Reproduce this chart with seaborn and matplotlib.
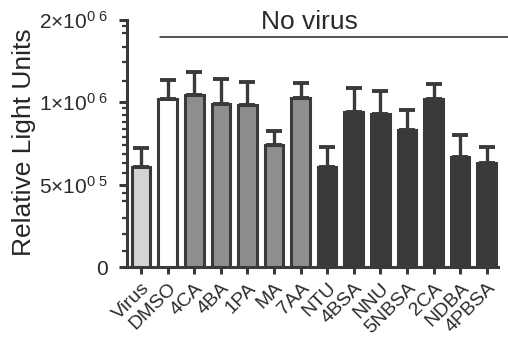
import numpy as np
import pandas as pd
import matplotlib
matplotlib.use("Agg")
import matplotlib.pyplot as plt
import seaborn as sns

# values
labels = ["Virus", "DMSO", "4CA", "4BA", "1PA", "MA", "7AA",
          "NTU", "4BSA", "NNU", "5NBSA", "2CA", "NDBA", "4PBSA"]
groups = ["virus", "dmso"] + ["acid"] * 5 + ["sulf"] * 7
means = [5.8e5, 1.03e6, 1.06e6, 9.9e5, 9.8e5, 7.0e5, 1.035e6,
         5.8e5, 9.2e5, 9.05e5, 7.9e5, 1.025e6, 6.3e5, 6.0e5]
sds = [1.0e5, 1.8e5, 2.3e5, 2.3e5, 2.1e5, 0.85e5, 1.45e5,
       1.05e5, 2.1e5, 1.95e5, 1.5e5, 1.45e5, 1.3e5, 0.85e5]
ytick_vals = [0, 5e5, 1e6, 2e6]
ytick_labels = ["0", r"$5{\times}10^{0\ 5}$", r"$1{\times}10^{0\ 6}$", r"$2{\times}10^{0\ 6}$"]

palette = {"virus": "#d4d4d4", "dmso": "#ffffff", "acid": "#8e8e8e", "sulf": "#393939"}
dark = "#3a3a3a"

sns.set_style("ticks")
plt.rcParams["font.family"] = ["Liberation Sans", "DejaVu Sans"]
plt.rcParams["mathtext.fontset"] = "custom"
plt.rcParams["mathtext.rm"] = "Liberation Sans"
plt.rcParams["mathtext.it"] = "Liberation Sans"
plt.rcParams["text.color"] = "#2b2b2b"
plt.rcParams["xtick.color"] = dark
plt.rcParams["ytick.color"] = dark
plt.rcParams["xtick.labelcolor"] = "#2b2b2b"
plt.rcParams["ytick.labelcolor"] = "#2b2b2b"

df = pd.DataFrame({"label": labels, "group": groups, "mean": means, "sd": sds})


# linear from 0 to 5e5, log2 above (segmented GraphPad style axis)
def fwd(y):
    y = np.asarray(y, dtype=float)
    return np.where(y <= 5e5, y / 5e5, 1 + np.log2(np.maximum(y, 5e5) / 5e5))


def inv(u):
    u = np.asarray(u, dtype=float)
    return np.where(u <= 1, u * 5e5, 5e5 * 2 ** (u - 1))


fig = plt.figure(figsize=(5.08, 3.45), dpi=100)
ax = fig.add_axes([0.250, 0.226, 0.730, 0.716])

sns.barplot(data=df, x="label", y="mean", hue="group", palette=palette,
            dodge=False, legend=False, width=0.7, edgecolor=dark,
            linewidth=2.2, ax=ax, zorder=3)

pos = np.arange(len(df))
ax.errorbar(pos, df["mean"], yerr=[np.zeros(len(df)), df["sd"]], fmt="none",
            ecolor=dark, elinewidth=2.4, capsize=6, capthick=2.8, zorder=2)

ax.set_yscale("function", functions=(fwd, inv))
ax.set_ylim(0, 2e6)
ax.set_xlim(-0.53, 13.42)
ax.set_yticks(ytick_vals)
ax.set_yticklabels(ytick_labels, fontsize=15)
minor = [1e5, 2e5, 3e5, 4e5, 4.5e5] + list(np.arange(5.5e5, 9.6e5, 0.5e5)) + [1.2e6, 1.4e6, 1.6e6, 1.8e6, 1.9e6]
ax.set_yticks(minor, minor=True)
ax.yaxis.set_minor_formatter(matplotlib.ticker.NullFormatter())

ax.set_xlabel("")
ax.set_ylabel("Relative Light Units", fontsize=19)
ax.yaxis.set_label_coords(-0.245, 0.505)
ax.set_xticks(pos)
ax.set_xticklabels(labels, rotation=45, ha="right", rotation_mode="anchor", fontsize=14)

sns.despine(ax=ax)
for s in ["left", "bottom"]:
    ax.spines[s].set_linewidth(2.2)
    ax.spines[s].set_color(dark)
ax.tick_params(axis="y", which="major", length=6, width=2.2, pad=8)
ax.tick_params(axis="y", which="minor", length=3.5, width=1.6)
ax.tick_params(axis="x", which="major", length=5, width=2.2, pad=4)

# "No virus" bracket
ax.plot([0.089, 1.03], [0.931, 0.931], transform=ax.transAxes, color="#262626",
        lw=1.1, clip_on=False)
ax.text(0.493, 0.942, "No virus", transform=ax.transAxes, ha="center",
        va="bottom", fontsize=19)

fig.savefig("out.png", dpi=100)
